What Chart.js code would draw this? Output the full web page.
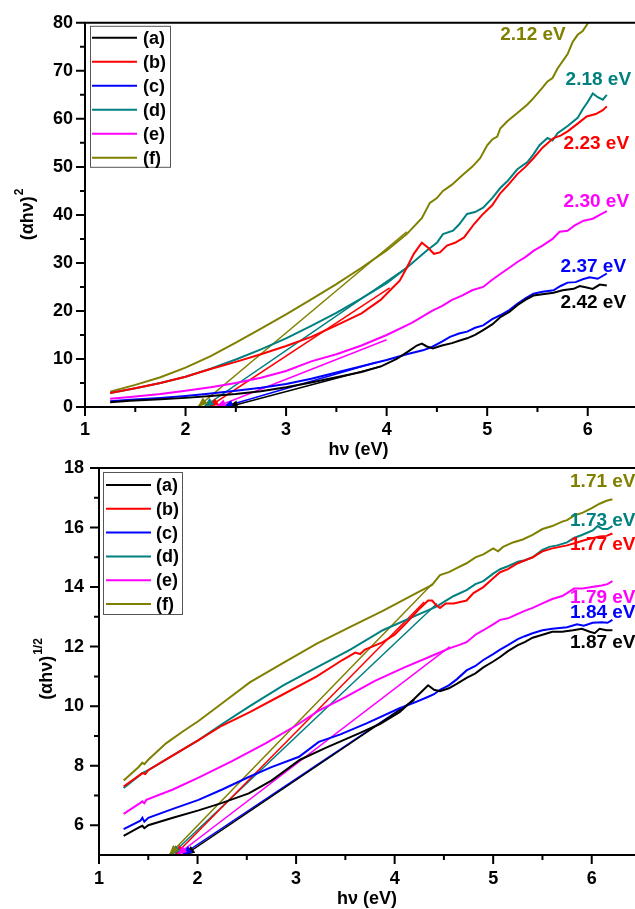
<!DOCTYPE html>
<html>
<head>
<meta charset="utf-8">
<title>Tauc plots</title>
<script src="https://cdn.jsdelivr.net/npm/chart.js@4.4.1/dist/chart.umd.min.js"></script>
<style>
  html, body { margin: 0; padding: 0; background: #fff; overflow: hidden; }
  #wrap { position: relative; width: 635px; height: 909px; overflow: hidden; }
  #wrap canvas { position: absolute; left: 0; }
</style>
</head>
<body>
<div id="wrap">
  <canvas id="directPlot" width="660" height="460" style="top:0"></canvas>
  <canvas id="indirectPlot" width="660" height="469" style="top:440px"></canvas>
</div>
<script>
const sampleNames = ['(a)', '(b)', '(c)', '(d)', '(e)', '(f)'];
const sampleColors = ['#000000', '#ff0000', '#0000ff', '#008080', '#ff00ff', '#808000'];

// band gaps read from the extrapolated fits (eV)
const directGaps = [2.42, 2.23, 2.37, 2.18, 2.30, 2.12];
const indirectGaps = [1.87, 1.77, 1.84, 1.73, 1.79, 1.71];

// upper end of each fitted line [hv, value]
const directFitEnds = [[3.95, 8.5], [4.03, 24.8], [3.9, 9.3], [4.2, 29], [4.0, 14], [4.2, 36.5]];
const indirectFitEnds = [[4.2, 10.2], [4.3, 13.5], [4.15, 10.1], [4.43, 13.45], [4.56, 12.0], [4.38, 14.1]];

const hvTicks = [1, 2, 3, 4, 5, 6];
const directTicks = [0, 10, 20, 30, 40, 50, 60, 70, 80];
const indirectTicks = [6, 8, 10, 12, 14, 16, 18];

// (αhν)^2 against hν
const directA = [[1.25,1.0],[1.45,1.3],[1.75,1.6],[2.0,1.9],[2.25,2.3],[2.5,2.7],[2.75,3.3],[3.0,4.1],[3.25,5.1],[3.5,6.2],[3.75,7.3],[3.95,8.5],[4.1,10.0],[4.23,11.8],[4.3,12.8],[4.35,13.2],[4.4,12.6],[4.46,12.2],[4.55,12.8],[4.65,13.3],[4.72,13.8],[4.8,14.3],[4.88,15.0],[4.96,16.0],[5.05,17.2],[5.13,18.7],[5.22,19.8],[5.3,21.2],[5.38,22.3],[5.46,23.2],[5.55,23.5],[5.66,23.8],[5.75,24.3],[5.86,24.6],[5.92,25.2],[5.99,24.9],[6.05,24.6],[6.12,25.5],[6.19,25.3]];
const directB = [[1.25,2.9],[1.5,3.9],[1.75,5.0],[2.0,6.3],[2.25,7.9],[2.5,9.4],[2.75,11.0],[3.0,12.7],[3.25,14.6],[3.5,17.0],[3.75,19.5],[3.94,22.3],[4.03,24.2],[4.13,26.3],[4.2,29.0],[4.27,31.9],[4.35,34.2],[4.41,33.2],[4.47,31.9],[4.53,32.2],[4.6,33.6],[4.68,34.2],[4.77,35.3],[4.87,38.1],[4.95,40.0],[5.05,42.0],[5.13,44.5],[5.22,46.5],[5.3,48.5],[5.38,50.0],[5.46,51.8],[5.55,54.0],[5.66,56.0],[5.73,56.5],[5.8,57.4],[5.9,59.0],[5.99,60.5],[6.08,61.0],[6.15,61.8],[6.19,62.6]];
const directC = [[1.25,1.2],[1.45,1.5],[1.75,1.9],[2.0,2.3],[2.25,2.8],[2.5,3.4],[2.75,4.0],[3.0,4.8],[3.25,5.9],[3.5,7.2],[3.75,8.5],[4.0,9.8],[4.2,11.0],[4.36,11.8],[4.45,12.5],[4.55,13.6],[4.63,14.6],[4.72,15.3],[4.8,15.7],[4.88,16.5],[4.96,17.0],[5.05,18.3],[5.13,19.1],[5.22,20.2],[5.3,21.5],[5.38,22.6],[5.46,23.6],[5.55,24.0],[5.66,24.3],[5.73,25.2],[5.8,25.9],[5.88,26.0],[5.95,26.6],[6.02,27.0],[6.1,26.7],[6.19,27.8]];
const directD = [[1.25,2.9],[1.5,3.9],[1.75,5.0],[2.0,6.3],[2.25,8.0],[2.5,9.9],[2.75,12.0],[3.0,14.3],[3.25,16.9],[3.5,19.6],[3.75,22.6],[4.0,25.8],[4.2,29.0],[4.4,32.6],[4.5,34.2],[4.56,36.0],[4.66,36.7],[4.72,38.0],[4.8,40.2],[4.88,40.6],[4.96,41.5],[5.05,43.5],[5.13,45.6],[5.2,47.0],[5.3,49.5],[5.4,51.0],[5.46,52.6],[5.52,54.5],[5.6,56.0],[5.65,55.5],[5.7,57.0],[5.8,58.5],[5.9,60.2],[5.95,62.0],[6.0,63.5],[6.05,65.3],[6.1,64.5],[6.15,64.0],[6.19,65.0]];
const directE = [[1.25,1.7],[1.45,2.1],[1.75,2.7],[2.0,3.4],[2.25,4.1],[2.5,5.0],[2.75,6.1],[3.0,7.5],[3.25,9.5],[3.5,11.0],[3.75,12.8],[4.0,15.0],[4.25,17.5],[4.46,20.1],[4.55,21.0],[4.65,22.3],[4.75,23.2],[4.85,24.3],[4.96,25.0],[5.05,26.5],[5.13,27.7],[5.22,29.0],[5.3,30.2],[5.38,31.2],[5.46,32.5],[5.55,33.6],[5.65,35.0],[5.72,36.5],[5.8,36.7],[5.87,37.8],[5.96,38.8],[6.05,39.2],[6.12,40.0],[6.19,40.8]];
const directF = [[1.25,3.2],[1.5,4.6],[1.75,6.2],[2.0,8.2],[2.25,10.6],[2.5,13.4],[2.75,16.3],[3.0,19.3],[3.25,22.4],[3.5,25.6],[3.75,29.0],[4.0,32.6],[4.2,36.0],[4.35,39.3],[4.43,42.5],[4.5,43.5],[4.56,45.0],[4.65,46.3],[4.75,48.2],[4.85,50.0],[4.93,51.8],[5.0,54.5],[5.05,55.7],[5.1,56.3],[5.13,58.0],[5.2,59.5],[5.3,61.2],[5.4,63.0],[5.46,64.3],[5.55,66.5],[5.6,67.8],[5.65,68.5],[5.7,70.5],[5.8,73.5],[5.85,76.0],[5.9,77.5],[5.95,78.3],[6.02,80.5],[6.1,82.5],[6.2,84.5]];

// (αhν)^1/2 against hν
const indirectA = [[1.25,5.64],[1.42,5.95],[1.44,5.98],[1.46,5.9],[1.5,6.0],[1.75,6.25],[2.01,6.5],[2.25,6.75],[2.52,7.07],[2.75,7.5],[3.04,8.2],[3.3,8.6],[3.65,9.1],[3.85,9.4],[4.05,9.8],[4.2,10.25],[4.34,10.7],[4.4,10.55],[4.46,10.5],[4.55,10.6],[4.63,10.75],[4.73,10.95],[4.82,11.1],[4.9,11.3],[5.0,11.5],[5.07,11.65],[5.15,11.85],[5.25,12.05],[5.32,12.15],[5.4,12.3],[5.5,12.4],[5.6,12.5],[5.7,12.5],[5.81,12.55],[5.9,12.6],[5.98,12.5],[6.03,12.45],[6.08,12.6],[6.15,12.55],[6.21,12.55]];
const indirectB = [[1.25,7.3],[1.44,7.75],[1.47,7.72],[1.5,7.85],[1.75,8.35],[2.01,8.86],[2.25,9.35],[2.53,9.8],[2.87,10.4],[3.21,11.0],[3.47,11.55],[3.6,11.8],[3.65,11.75],[3.7,11.9],[3.88,12.15],[4.0,12.4],[4.12,12.8],[4.26,13.3],[4.34,13.55],[4.38,13.55],[4.42,13.4],[4.46,13.3],[4.52,13.45],[4.6,13.45],[4.73,13.55],[4.8,13.8],[4.9,14.0],[5.0,14.3],[5.07,14.5],[5.15,14.6],[5.25,14.8],[5.4,15.0],[5.5,15.2],[5.6,15.3],[5.75,15.4],[5.85,15.5],[5.95,15.6],[6.08,15.7],[6.15,15.72],[6.21,15.8]];
const indirectC = [[1.25,5.87],[1.42,6.15],[1.44,6.25],[1.46,6.12],[1.5,6.25],[1.75,6.55],[2.01,6.85],[2.25,7.2],[2.52,7.62],[2.75,7.95],[3.03,8.3],[3.23,8.8],[3.45,9.05],[3.72,9.43],[4.05,9.93],[4.2,10.12],[4.33,10.3],[4.4,10.4],[4.46,10.55],[4.55,10.7],[4.63,10.9],[4.73,11.2],[4.82,11.35],[4.9,11.55],[5.0,11.75],[5.07,11.9],[5.15,12.05],[5.25,12.25],[5.32,12.35],[5.4,12.45],[5.5,12.55],[5.6,12.6],[5.75,12.65],[5.85,12.75],[5.92,12.7],[6.01,12.8],[6.1,12.82],[6.16,12.8],[6.21,12.9]];
const indirectD = [[1.25,7.25],[1.44,7.75],[1.5,7.85],[1.75,8.35],[2.01,8.86],[2.25,9.4],[2.53,10.0],[2.87,10.7],[3.21,11.3],[3.55,11.9],[3.88,12.55],[4.22,13.05],[4.43,13.35],[4.5,13.5],[4.6,13.7],[4.73,13.9],[4.82,14.1],[4.9,14.2],[5.0,14.45],[5.07,14.6],[5.15,14.7],[5.25,14.85],[5.32,14.9],[5.4,15.0],[5.5,15.25],[5.57,15.35],[5.65,15.4],[5.75,15.5],[5.82,15.65],[5.9,15.75],[6.01,15.9],[6.06,16.05],[6.11,15.95],[6.16,15.95],[6.21,16.05]];
const indirectE = [[1.25,6.38],[1.42,6.75],[1.44,6.8],[1.46,6.74],[1.48,6.85],[1.75,7.2],[2.01,7.6],[2.35,8.15],[2.69,8.75],[3.0,9.35],[3.23,9.85],[3.5,10.3],[3.8,10.85],[4.1,11.3],[4.35,11.65],[4.56,11.95],[4.65,12.05],[4.73,12.15],[4.82,12.4],[4.9,12.55],[5.0,12.75],[5.07,12.9],[5.15,12.95],[5.25,13.1],[5.32,13.2],[5.4,13.3],[5.5,13.45],[5.6,13.6],[5.7,13.7],[5.75,13.8],[5.82,13.95],[5.91,13.95],[6.0,14.0],[6.1,14.05],[6.16,14.1],[6.21,14.2]];
const indirectF = [[1.25,7.5],[1.4,7.95],[1.44,8.1],[1.46,8.05],[1.5,8.2],[1.68,8.75],[1.85,9.15],[2.01,9.5],[2.29,10.2],[2.53,10.8],[2.87,11.45],[3.21,12.1],[3.55,12.66],[3.88,13.2],[4.22,13.8],[4.38,14.07],[4.46,14.4],[4.55,14.5],[4.64,14.65],[4.73,14.8],[4.82,15.0],[4.9,15.1],[5.0,15.3],[5.05,15.2],[5.1,15.35],[5.2,15.5],[5.3,15.6],[5.4,15.75],[5.5,15.95],[5.6,16.05],[5.7,16.2],[5.75,16.25],[5.82,16.4],[5.91,16.5],[6.0,16.65],[6.08,16.8],[6.15,16.9],[6.21,16.95]];

// where the gap values are written [hv of left edge, value at text middle]
const directLabelAt = [[5.73, 21.8], [5.76, 54.9], [5.73, 29.2], [5.78, 68.2], [5.76, 42.7], [5.13, 77.5]];
const indirectLabelAt = [[5.78, 12.12], [5.78, 15.41], [5.78, 13.13], [5.78, 16.22], [5.78, 13.63], [5.78, 17.53]];

const FONT = '"Liberation Sans", Arial, sans-serif';

function toXY(pts) {
    return pts.map(p => ({ x: p[0], y: p[1] }));
}

function buildDatasets(curves, gaps, ends, base) {
    const sets = [];
    curves.forEach((c, i) => {
        sets.push({
            label: sampleNames[i],
            data: toXY(c),
            borderColor: sampleColors[i],
            borderWidth: 2,
            pointRadius: 0,
            tension: 0
        });
    });
    // extrapolated straight fits, arrow points at the gap
    gaps.forEach((g, i) => {
        sets.push({
            label: sampleNames[i] + ' fit',
            data: [{ x: g, y: base }, { x: ends[i][0], y: ends[i][1] }],
            borderColor: sampleColors[i],
            borderWidth: 1.5,
            pointRadius: 0,
            arrow: true
        });
    });
    return sets;
}

function tickValues(list) {
    return scale => { scale.ticks = list.map(v => ({ value: v })); };
}

const framePlugin = {
    id: 'frame',
    afterDatasetsDraw(chart, args, opts) {
        const { ctx, chartArea: a, scales: { x, y } } = chart;
        ctx.save();

        // arrow heads
        chart.data.datasets.forEach((ds, i) => {
            if (!ds.arrow) return;
            const pts = chart.getDatasetMeta(i).data;
            const p0 = pts[0], p1 = pts[1];
            const ang = Math.atan2(p0.y - p1.y, p0.x - p1.x);
            const L = 10, W = 4;
            const bx = p0.x - L * Math.cos(ang), by = p0.y - L * Math.sin(ang);
            ctx.fillStyle = ds.borderColor;
            ctx.beginPath();
            ctx.moveTo(p0.x, p0.y);
            ctx.lineTo(bx + W * Math.sin(ang), by - W * Math.cos(ang));
            ctx.lineTo(bx - W * Math.sin(ang), by + W * Math.cos(ang));
            ctx.closePath();
            ctx.fill();
        });

        // axis frame (left, bottom, top)
        ctx.strokeStyle = '#000';
        ctx.lineWidth = 2;
        ctx.beginPath();
        ctx.moveTo(a.right + 10, a.top);
        ctx.lineTo(a.left, a.top);
        ctx.lineTo(a.left, a.bottom);
        ctx.lineTo(a.right + 10, a.bottom);
        ctx.stroke();

        // major and minor tick marks pointing outwards
        const yt = opts.yTicks;
        ctx.beginPath();
        yt.forEach((v, k) => {
            const py = y.getPixelForValue(v);
            ctx.moveTo(a.left, py); ctx.lineTo(a.left - 9, py);
            const mid = k < yt.length - 1 ? (v + yt[k + 1]) / 2 : v + (v - yt[k - 1]) / 2;
            if (mid < y.max) {
                const pm = y.getPixelForValue(mid);
                ctx.moveTo(a.left, pm); ctx.lineTo(a.left - 5, pm);
            }
        });
        hvTicks.forEach(v => {
            const px = x.getPixelForValue(v);
            ctx.moveTo(px, a.bottom); ctx.lineTo(px, a.bottom + 9);
            const pm = x.getPixelForValue(v + 0.5);
            ctx.moveTo(pm, a.bottom); ctx.lineTo(pm, a.bottom + 5);
        });
        ctx.stroke();

        // legend box in the upper left corner
        const lg = opts.legend;
        const lx = a.left + lg.dx, ly = a.top + lg.dy;
        ctx.lineWidth = 1;
        ctx.strokeStyle = '#555';
        ctx.strokeRect(lx + 0.5, ly + 0.5, lg.w, lg.h);
        ctx.font = 'bold 18px ' + FONT;
        ctx.textBaseline = 'middle';
        ctx.textAlign = 'left';
        sampleNames.forEach((name, i) => {
            const ry = ly + lg.first + i * lg.step;
            ctx.strokeStyle = sampleColors[i];
            ctx.lineWidth = 2;
            ctx.beginPath();
            ctx.moveTo(lx + lg.lineFrom, ry);
            ctx.lineTo(lx + lg.lineTo, ry);
            ctx.stroke();
            ctx.fillStyle = '#000';
            ctx.fillText(name, lx + lg.textAt, ry + 1);
        });

        // band gap values
        ctx.font = 'bold 19px ' + FONT;
        opts.gaps.forEach((g, i) => {
            const pos = opts.labelAt[i];
            ctx.fillStyle = sampleColors[i];
            ctx.fillText(g.toFixed(2) + ' eV', x.getPixelForValue(pos[0]), y.getPixelForValue(pos[1]));
        });

        // axis titles
        ctx.fillStyle = '#000';
        ctx.font = 'bold 18px ' + FONT;
        ctx.textAlign = 'center';
        ctx.fillText('h\u03bd (eV)', (a.left + a.right) / 2 + opts.xTitle.dx, a.bottom + opts.xTitle.dy);

        ctx.translate(opts.yTitle.x, (a.top + a.bottom) / 2 + opts.yTitle.dy);
        ctx.rotate(-Math.PI / 2);
        const main = '(\u03b1h\u03bd)';
        const w = ctx.measureText(main).width;
        ctx.font = 'bold 12px ' + FONT;
        const ws = ctx.measureText(opts.yTitle.sup).width;
        ctx.textAlign = 'left';
        ctx.fillText(opts.yTitle.sup, -(w + ws) / 2 + w + 1, -8);
        ctx.font = 'bold 18px ' + FONT;
        ctx.fillText(main, -(w + ws) / 2, 0);

        ctx.restore();
    }
};

function makeChart(id, curves, gaps, ends, yMin, yMax, yTicks, box, frame) {
    return new Chart(document.getElementById(id), {
        type: 'line',
        data: { datasets: buildDatasets(curves, gaps, ends, yMin) },
        options: {
            responsive: false,
            animation: false,
            devicePixelRatio: 1,
            events: [],
            layout: { padding: { left: 0, top: box.top, right: box.right, bottom: 0 } },
            scales: {
                x: {
                    type: 'linear',
                    min: 1,
                    max: 6.5,
                    afterBuildTicks: tickValues(hvTicks),
                    afterFit: s => { s.height = box.xHeight; },
                    grid: { display: false, drawTicks: false },
                    border: { display: false },
                    ticks: {
                        padding: box.xPad,
                        color: '#000',
                        font: { family: FONT, size: 18, weight: 'bold' }
                    }
                },
                y: {
                    type: 'linear',
                    min: yMin,
                    max: yMax,
                    afterBuildTicks: tickValues(yTicks),
                    afterFit: s => { s.width = box.yWidth; },
                    grid: { display: false, drawTicks: false },
                    border: { display: false },
                    ticks: {
                        padding: box.yPad,
                        color: '#000',
                        font: { family: FONT, size: 18, weight: 'bold' }
                    }
                }
            },
            plugins: {
                legend: { display: false },
                tooltip: { enabled: false },
                frame: Object.assign({ yTicks: yTicks, gaps: gaps }, frame)
            }
        },
        plugins: [framePlugin]
    });
}

makeChart('directPlot',
    [directA, directB, directC, directD, directE, directF],
    directGaps, directFitEnds, 0, 80, directTicks,
    { top: 21, right: 22, xHeight: 53, yWidth: 85, xPad: 12, yPad: 12 },
    {
        labelAt: directLabelAt,
        legend: { dx: 5, dy: 3, w: 80, h: 141, first: 12, step: 24, lineFrom: 2, lineTo: 47, textAt: 53 },
        xTitle: { dx: -3, dy: 43 },
        yTitle: { x: 28, dy: 0, sup: '2' }
    });

makeChart('indirectPlot',
    [indirectA, indirectB, indirectC, indirectD, indirectE, indirectF],
    indirectGaps, indirectFitEnds, 5, 18, indirectTicks,
    { top: 28, right: 19, xHeight: 54, yWidth: 99, xPad: 13, yPad: 15 },
    {
        labelAt: indirectLabelAt,
        legend: { dx: 4, dy: 4, w: 79, h: 142, first: 13, step: 23.8, lineFrom: 3, lineTo: 48, textAt: 53 },
        xTitle: { dx: -3, dy: 44 },
        yTitle: { x: 47, dy: 8, sup: '1/2' }
    });
</script>
</body>
</html>
